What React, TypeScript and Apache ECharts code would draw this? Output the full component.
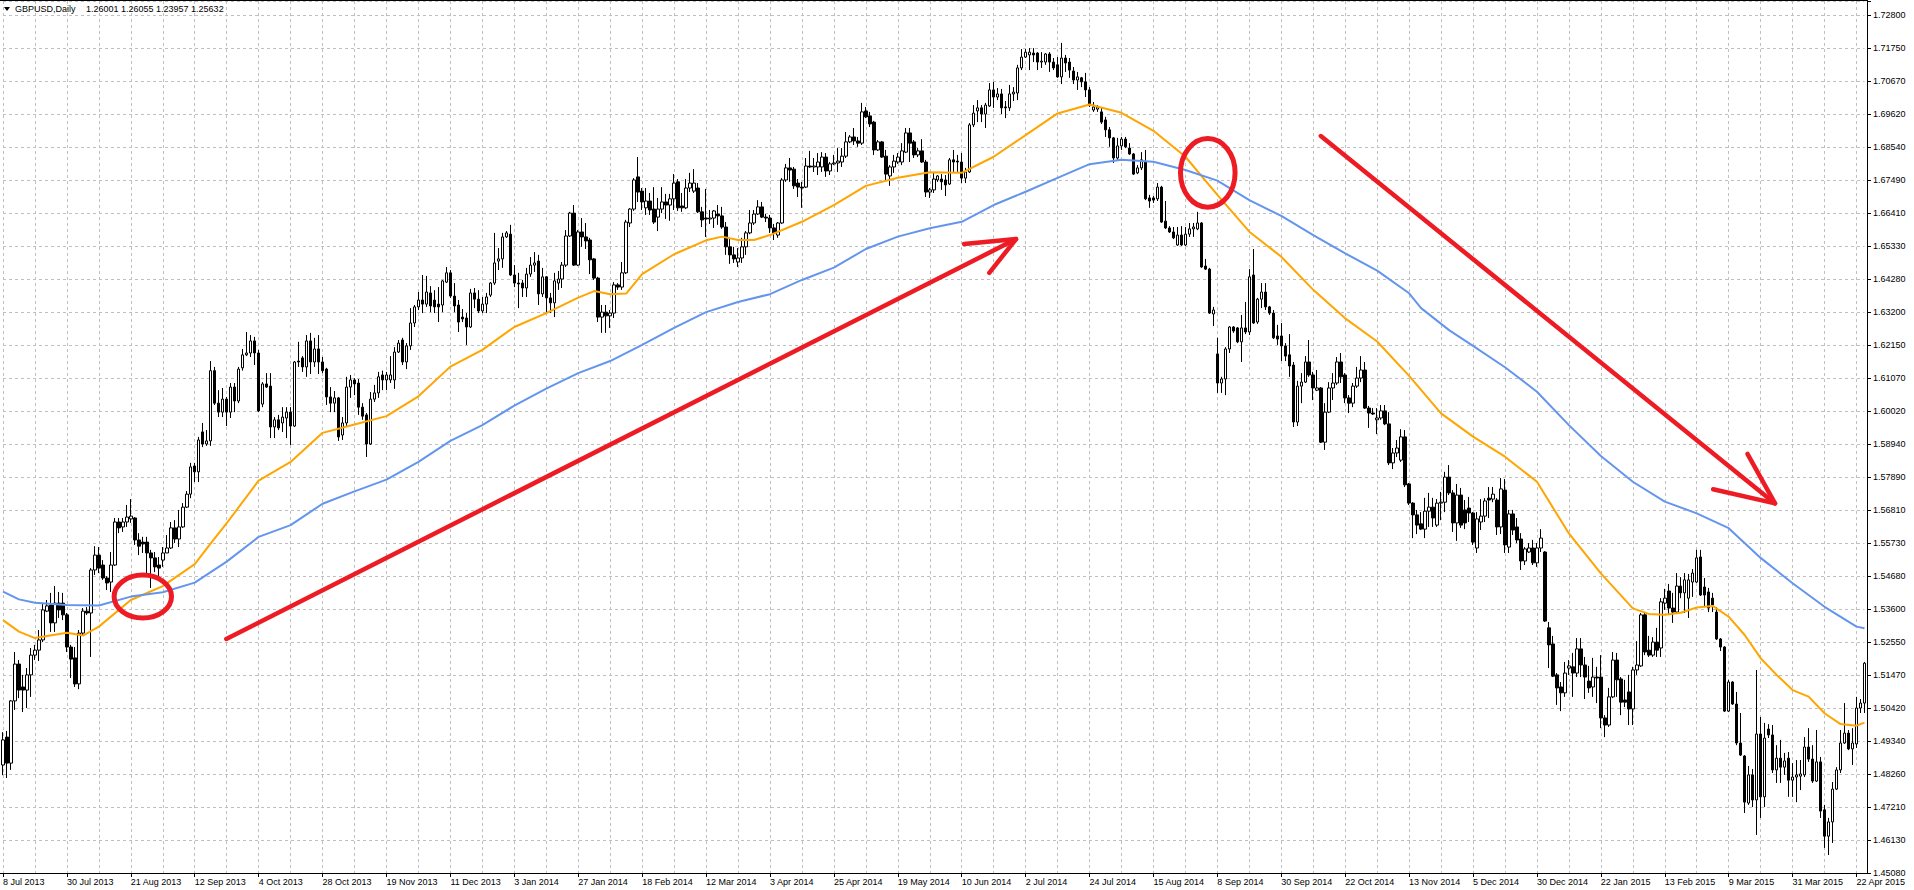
import React, { useEffect, useRef } from "react";
import * as echarts from "echarts";

// ---------- axis texts ----------
const X_TICKS = [
  "8 Jul 2013", "30 Jul 2013", "21 Aug 2013", "12 Sep 2013", "4 Oct 2013", "28 Oct 2013",
  "19 Nov 2013", "11 Dec 2013", "3 Jan 2014", "27 Jan 2014", "18 Feb 2014", "12 Mar 2014",
  "3 Apr 2014", "25 Apr 2014", "19 May 2014", "10 Jun 2014", "2 Jul 2014", "24 Jul 2014",
  "15 Aug 2014", "8 Sep 2014", "30 Sep 2014", "22 Oct 2014", "13 Nov 2014", "5 Dec 2014",
  "30 Dec 2014", "22 Jan 2015", "13 Feb 2015", "9 Mar 2015", "31 Mar 2015", "22 Apr 2015",
];
const X_TICK_EVERY = 16; // bars between date labels
const X_GRID_EVERY = 8; // bars between vertical grid lines

// bottom -> top
const Y_TICKS = [
  "1.45080", "1.46130", "1.47210", "1.48260", "1.49340", "1.50420", "1.51470", "1.52550",
  "1.53600", "1.54680", "1.55730", "1.56810", "1.57890", "1.58940", "1.60020", "1.61070",
  "1.62150", "1.63200", "1.64280", "1.65330", "1.66410", "1.67490", "1.68540", "1.69620",
  "1.70670", "1.71750", "1.72800",
];
const PRICE_MIN = 1.4508;
const PRICE_MAX = 1.732523;
const Y_STEP = (1.728 - 1.4508) / 26;

const HEADER_SYMBOL = "GBPUSD,Daily";
const HEADER_VALUES = "1.26001 1.26055 1.23957 1.25632";

// ---------- daily OHLC ----------
const OPEN = [
  1.4857,1.4947,1.4863,1.5064,1.5183,1.5109,1.5099,1.5148,1.5212,1.5228,
  1.5261,1.5354,1.5374,1.5316,1.5380,1.5380,1.5342,1.5238,1.5203,1.5119,
  1.5283,1.5354,1.5348,1.5487,1.5535,1.5503,1.5461,1.5448,1.5503,1.5642,
  1.5626,1.5642,1.5652,1.5655,1.5584,1.5577,1.5577,1.5542,1.5526,1.5503,
  1.5519,1.5542,1.5558,1.5623,1.5587,1.5626,1.5690,1.5732,1.5823,1.5804,
  1.5933,1.5894,1.5904,1.6131,1.6026,1.5997,1.6039,1.5997,1.6078,1.6033,
  1.6140,1.6182,1.6188,1.6227,1.6188,1.6023,1.6088,1.6081,1.5949,1.5972,
  1.5962,1.5978,1.5997,1.5952,1.6162,1.6172,1.6143,1.6227,1.6159,1.6201,
  1.6159,1.6136,1.6046,1.6026,1.6043,1.5923,1.5962,1.6078,1.6101,1.6091,
  1.6013,1.5988,1.5894,1.6039,1.6059,1.6117,1.6101,1.6101,1.6101,1.6191,
  1.6230,1.6159,1.6211,1.6285,1.6337,1.6359,1.6346,1.6382,1.6359,1.6346,
  1.6343,1.6417,1.6447,1.6372,1.6343,1.6304,1.6301,1.6272,1.6382,1.6362,
  1.6324,1.6346,1.6375,1.6414,1.6485,1.6492,1.6563,1.6572,1.6440,1.6414,
  1.6414,1.6398,1.6443,1.6472,1.6485,1.6379,1.6434,1.6366,1.6350,1.6414,
  1.6427,1.6472,1.6566,1.6640,1.6472,1.6579,1.6563,1.6553,1.6492,1.6430,
  1.6304,1.6320,1.6308,1.6317,1.6408,1.6401,1.6447,1.6608,1.6653,1.6757,
  1.6711,1.6657,1.6679,1.6653,1.6627,1.6653,1.6676,1.6666,1.6686,1.6741,
  1.6663,1.6657,1.6721,1.6711,1.6721,1.6644,1.6624,1.6621,1.6624,1.6637,
  1.6631,1.6595,1.6531,1.6505,1.6482,1.6495,1.6531,1.6576,1.6608,1.6637,
  1.6660,1.6627,1.6624,1.6592,1.6569,1.6608,1.6747,1.6786,1.6782,1.6737,
  1.6724,1.6724,1.6792,1.6789,1.6789,1.6789,1.6821,1.6776,1.6799,1.6802,
  1.6805,1.6824,1.6870,1.6886,1.6873,1.6866,1.6970,1.6954,1.6934,1.6844,
  1.6870,1.6824,1.6760,1.6789,1.6805,1.6805,1.6837,1.6899,1.6870,1.6828,
  1.6841,1.6805,1.6708,1.6715,1.6747,1.6750,1.6747,1.6734,1.6812,1.6808,
  1.6805,1.6753,1.6773,1.6925,1.6970,1.6980,1.6960,1.6986,1.7038,1.7015,
  1.7025,1.6983,1.6980,1.7025,1.7028,1.7109,1.7144,1.7151,1.7157,1.7157,
  1.7128,1.7128,1.7154,1.7128,1.7119,1.7080,1.7141,1.7128,1.7099,1.7070,
  1.7077,1.7064,1.7038,1.6973,1.6976,1.6967,1.6941,1.6909,1.6883,1.6818,
  1.6857,1.6879,1.6850,1.6831,1.6770,1.6786,1.6805,1.6689,1.6689,1.6686,
  1.6724,1.6614,1.6592,1.6579,1.6537,1.6569,1.6537,1.6572,1.6589,1.6589,
  1.6608,1.6469,1.6459,1.6314,1.6185,1.6091,1.6104,1.6201,1.6272,1.6269,
  1.6224,1.6269,1.6256,1.6440,1.6288,1.6362,1.6385,1.6337,1.6317,1.6243,
  1.6243,1.6211,1.6182,1.6149,1.5965,1.6081,1.6094,1.6159,1.6117,1.6068,
  1.6075,1.5900,1.5997,1.6075,1.6091,1.6159,1.6117,1.6043,1.6026,1.6081,
  1.6107,1.6133,1.6010,1.5994,1.5972,1.5978,1.6001,1.5959,1.5833,1.5865,
  1.5842,1.5917,1.5765,1.5703,1.5665,1.5636,1.5619,1.5677,1.5690,1.5632,
  1.5703,1.5706,1.5787,1.5736,1.5639,1.5729,1.5681,1.5687,1.5671,1.5558,
  1.5642,1.5661,1.5719,1.5716,1.5713,1.5626,1.5745,1.5561,1.5668,1.5626,
  1.5587,1.5516,1.5545,1.5558,1.5510,1.5558,1.5545,1.5300,1.5248,1.5148,
  1.5109,1.5090,1.5170,1.5174,1.5154,1.5232,1.5180,1.5128,1.5109,1.5141,
  1.5141,1.5009,1.4986,1.5077,1.5196,1.5135,1.5067,1.5093,1.5038,1.5164,
  1.5177,1.5342,1.5228,1.5212,1.5254,1.5235,1.5380,1.5419,1.5364,1.5351,
  1.5435,1.5413,1.5396,1.5448,1.5448,1.5529,1.5432,1.5416,1.5396,1.5351,
  1.5264,1.5238,1.5031,1.5125,1.5054,1.4928,1.4886,1.4734,1.4825,1.4744,
  1.4957,1.4754,1.4973,1.4954,1.4841,1.4879,1.4850,1.4879,1.4808,1.4818,
  1.4821,1.4825,1.4915,1.4876,1.4805,1.4867,1.4712,1.4627,1.4673,1.4779,
  1.4841,1.4928,1.4960,1.4909,1.4925,1.5041,1.5057,
];
const HIGH = [
  1.4963,1.4967,1.5067,1.5222,1.5196,1.5148,1.5170,1.5235,1.5245,1.5293,
  1.5380,1.5390,1.5413,1.5435,1.5416,1.5413,1.5348,1.5245,1.5238,1.5293,
  1.5364,1.5367,1.5493,1.5564,1.5561,1.5519,1.5467,1.5545,1.5655,1.5655,
  1.5655,1.5697,1.5716,1.5658,1.5606,1.5594,1.5594,1.5552,1.5545,1.5529,
  1.5561,1.5600,1.5642,1.5648,1.5681,1.5703,1.5742,1.5833,1.5833,1.5917,
  1.5962,1.5939,1.6162,1.6143,1.6068,1.6075,1.6046,1.6091,1.6091,1.6143,
  1.6201,1.6256,1.6246,1.6240,1.6198,1.6094,1.6123,1.6123,1.5981,1.5988,
  1.6013,1.6013,1.6013,1.6162,1.6224,1.6178,1.6246,1.6253,1.6237,1.6246,
  1.6175,1.6140,1.6078,1.6065,1.6046,1.5981,1.6111,1.6117,1.6107,1.6104,
  1.6026,1.5994,1.6062,1.6085,1.6127,1.6131,1.6127,1.6178,1.6207,1.6230,
  1.6237,1.6220,1.6333,1.6343,1.6385,1.6440,1.6437,1.6404,1.6391,1.6401,
  1.6424,1.6466,1.6456,1.6414,1.6359,1.6330,1.6317,1.6395,1.6398,1.6391,
  1.6369,1.6382,1.6417,1.6576,1.6527,1.6576,1.6582,1.6602,1.6472,1.6447,
  1.6424,1.6463,1.6498,1.6514,1.6505,1.6463,1.6437,1.6382,1.6447,1.6453,
  1.6482,1.6585,1.6644,1.6666,1.6585,1.6624,1.6608,1.6560,1.6495,1.6434,
  1.6343,1.6343,1.6327,1.6417,1.6414,1.6482,1.6618,1.6656,1.6753,1.6821,
  1.6721,1.6721,1.6705,1.6724,1.6689,1.6724,1.6702,1.6702,1.6766,1.6750,
  1.6705,1.6750,1.6770,1.6782,1.6737,1.6660,1.6718,1.6650,1.6650,1.6666,
  1.6660,1.6611,1.6560,1.6531,1.6527,1.6560,1.6582,1.6650,1.6650,1.6682,
  1.6676,1.6637,1.6634,1.6605,1.6611,1.6753,1.6799,1.6818,1.6789,1.6750,
  1.6741,1.6818,1.6841,1.6818,1.6834,1.6837,1.6834,1.6805,1.6828,1.6850,
  1.6850,1.6902,1.6892,1.6915,1.6886,1.6996,1.6983,1.6967,1.6938,1.6876,
  1.6873,1.6844,1.6795,1.6828,1.6834,1.6866,1.6915,1.6915,1.6876,1.6850,
  1.6879,1.6812,1.6721,1.6770,1.6763,1.6766,1.6763,1.6818,1.6844,1.6828,
  1.6834,1.6786,1.6931,1.6989,1.7005,1.6989,1.6996,1.7060,1.7064,1.7044,
  1.7041,1.7002,1.7054,1.7047,1.7119,1.7170,1.7170,1.7173,1.7173,1.7160,
  1.7160,1.7157,1.7160,1.7141,1.7144,1.7190,1.7151,1.7141,1.7112,1.7096,
  1.7080,1.7093,1.7047,1.6999,1.6989,1.6980,1.6951,1.6918,1.6886,1.6883,
  1.6886,1.6886,1.6866,1.6834,1.6795,1.6837,1.6844,1.6699,1.6695,1.6737,
  1.6728,1.6679,1.6598,1.6595,1.6595,1.6598,1.6595,1.6608,1.6608,1.6644,
  1.6611,1.6492,1.6463,1.6337,1.6237,1.6111,1.6207,1.6275,1.6275,1.6272,
  1.6311,1.6353,1.6459,1.6524,1.6366,1.6414,1.6414,1.6340,1.6327,1.6279,
  1.6285,1.6220,1.6249,1.6159,1.6098,1.6123,1.6178,1.6230,1.6127,1.6133,
  1.6078,1.6026,1.6094,1.6123,1.6175,1.6188,1.6123,1.6052,1.6091,1.6143,
  1.6178,1.6159,1.6017,1.6010,1.6010,1.6020,1.6020,1.5997,1.5881,1.5907,
  1.5942,1.5939,1.5768,1.5706,1.5681,1.5674,1.5720,1.5736,1.5720,1.5716,
  1.5739,1.5804,1.5826,1.5745,1.5765,1.5752,1.5713,1.5723,1.5674,1.5674,
  1.5716,1.5719,1.5755,1.5755,1.5719,1.5784,1.5781,1.5681,1.5681,1.5655,
  1.5606,1.5561,1.5574,1.5584,1.5574,1.5619,1.5548,1.5319,1.5274,1.5154,
  1.5125,1.5190,1.5196,1.5219,1.5267,1.5267,1.5206,1.5177,1.5203,1.5174,
  1.5212,1.5018,1.5106,1.5222,1.5219,1.5141,1.5132,1.5148,1.5174,1.5257,
  1.5348,1.5348,1.5274,1.5270,1.5300,1.5396,1.5426,1.5442,1.5413,1.5477,
  1.5464,1.5477,1.5474,1.5490,1.5552,1.5552,1.5461,1.5429,1.5413,1.5367,
  1.5267,1.5241,1.5132,1.5128,1.5093,1.5025,1.4889,1.4854,1.4844,1.5164,
  1.5012,1.4993,1.4989,1.4986,1.4921,1.4938,1.4896,1.4899,1.4863,1.4873,
  1.4873,1.4947,1.4976,1.4921,1.4970,1.4883,1.4728,1.4686,1.4802,1.4850,
  1.4970,1.5057,1.4970,1.4976,1.5077,1.5070,1.5190,
];
const LOW = [
  1.4824,1.4815,1.4841,1.5035,1.5073,1.5028,1.5041,1.5077,1.5196,1.5193,
  1.5254,1.5351,1.5287,1.5287,1.5332,1.5325,1.5222,1.5138,1.5109,1.5102,
  1.5274,1.5342,1.5206,1.5471,1.5477,1.5455,1.5422,1.5416,1.5500,1.5606,
  1.5610,1.5626,1.5639,1.5568,1.5535,1.5542,1.5477,1.5429,1.5480,1.5461,
  1.5497,1.5542,1.5555,1.5574,1.5561,1.5623,1.5687,1.5719,1.5771,1.5771,
  1.5884,1.5888,1.5888,1.6020,1.5981,1.5981,1.5952,1.5978,1.5997,1.6026,
  1.6131,1.6178,1.6175,1.6149,1.5997,1.6013,1.6075,1.5913,1.5913,1.5939,
  1.5933,1.5913,1.5891,1.5949,1.6143,1.6127,1.6111,1.6120,1.6143,1.6120,
  1.6123,1.6020,1.5997,1.5997,1.5904,1.5907,1.5949,1.6043,1.6052,1.5988,
  1.5972,1.5852,1.5891,1.6030,1.6043,1.6068,1.6068,1.6091,1.6072,1.6188,
  1.6149,1.6136,1.6198,1.6272,1.6327,1.6317,1.6337,1.6320,1.6317,1.6288,
  1.6320,1.6414,1.6366,1.6320,1.6256,1.6288,1.6214,1.6269,1.6333,1.6317,
  1.6317,1.6317,1.6369,1.6408,1.6456,1.6463,1.6560,1.6437,1.6401,1.6333,
  1.6369,1.6369,1.6434,1.6450,1.6343,1.6369,1.6317,1.6317,1.6304,1.6392,
  1.6398,1.6466,1.6563,1.6469,1.6469,1.6531,1.6524,1.6443,1.6424,1.6288,
  1.6253,1.6253,1.6269,1.6301,1.6392,1.6392,1.6443,1.6595,1.6647,1.6676,
  1.6650,1.6634,1.6634,1.6605,1.6582,1.6640,1.6621,1.6615,1.6650,1.6647,
  1.6644,1.6653,1.6708,1.6705,1.6640,1.6595,1.6563,1.6605,1.6592,1.6602,
  1.6589,1.6505,1.6476,1.6479,1.6466,1.6479,1.6505,1.6572,1.6602,1.6634,
  1.6624,1.6611,1.6576,1.6553,1.6560,1.6605,1.6741,1.6741,1.6718,1.6692,
  1.6657,1.6721,1.6786,1.6773,1.6763,1.6773,1.6757,1.6763,1.6795,1.6773,
  1.6789,1.6818,1.6866,1.6860,1.6854,1.6860,1.6947,1.6918,1.6828,1.6841,
  1.6818,1.6747,1.6728,1.6770,1.6799,1.6795,1.6834,1.6805,1.6818,1.6821,
  1.6802,1.6692,1.6689,1.6705,1.6741,1.6715,1.6695,1.6731,1.6773,1.6770,
  1.6737,1.6737,1.6770,1.6918,1.6934,1.6934,1.6915,1.6983,1.6980,1.7005,
  1.6960,1.6947,1.6970,1.7002,1.7005,1.7102,1.7141,1.7102,1.7128,1.7102,
  1.7109,1.7119,1.7096,1.7102,1.7077,1.7057,1.7096,1.7077,1.7057,1.7038,
  1.7047,1.7015,1.6983,1.6967,1.6967,1.6928,1.6886,1.6854,1.6802,1.6812,
  1.6844,1.6850,1.6828,1.6763,1.6766,1.6779,1.6682,1.6657,1.6673,1.6679,
  1.6608,1.6589,1.6576,1.6556,1.6534,1.6534,1.6534,1.6563,1.6563,1.6585,
  1.6463,1.6456,1.6314,1.6275,1.6059,1.6059,1.6052,1.6188,1.6253,1.6220,
  1.6159,1.6249,1.6246,1.6282,1.6282,1.6333,1.6327,1.6311,1.6233,1.6214,
  1.6162,1.6162,1.6111,1.5949,1.5952,1.6026,1.6091,1.6111,1.6036,1.6065,
  1.5897,1.5875,1.5994,1.6036,1.6085,1.6091,1.6026,1.5994,1.6013,1.6075,
  1.6094,1.6007,1.5946,1.5988,1.5926,1.5972,1.5955,1.5826,1.5813,1.5852,
  1.5836,1.5755,1.5697,1.5590,1.5603,1.5616,1.5590,1.5626,1.5626,1.5626,
  1.5648,1.5674,1.5729,1.5610,1.5581,1.5623,1.5619,1.5642,1.5568,1.5542,
  1.5616,1.5642,1.5655,1.5706,1.5600,1.5603,1.5542,1.5542,1.5600,1.5574,
  1.5487,1.5503,1.5542,1.5503,1.5497,1.5545,1.5319,1.5170,1.5141,1.5051,
  1.5031,1.5077,1.5148,1.5077,1.5141,1.5141,1.5070,1.5090,1.5077,1.5057,
  1.4976,1.4947,1.4980,1.5073,1.5077,1.5018,1.5044,1.4986,1.4986,1.5148,
  1.5174,1.5212,1.5206,1.5206,1.5206,1.5206,1.5358,1.5342,1.5316,1.5348,
  1.5396,1.5348,1.5332,1.5400,1.5445,1.5403,1.5367,1.5351,1.5351,1.5261,
  1.5225,1.5028,1.5028,1.5051,1.4921,1.4886,1.4702,1.4728,1.4721,1.4631,
  1.4686,1.4721,1.4944,1.4831,1.4799,1.4799,1.4825,1.4754,1.4754,1.4737,
  1.4776,1.4818,1.4867,1.4799,1.4802,1.4686,1.4589,1.4566,1.4605,1.4776,
  1.4831,1.4925,1.4905,1.4857,1.4912,1.5025,1.5025,
];
const CLOSE = [
  1.4938,1.4863,1.5064,1.5183,1.5099,1.5099,1.5148,1.5212,1.5228,1.5261,
  1.5358,1.5371,1.5316,1.5380,1.5358,1.5342,1.5238,1.5199,1.5119,1.5283,
  1.5354,1.5348,1.5487,1.5535,1.5493,1.5461,1.5445,1.5503,1.5642,1.5623,
  1.5642,1.5658,1.5661,1.5584,1.5564,1.5571,1.5542,1.5526,1.5497,1.5493,
  1.5542,1.5558,1.5623,1.5587,1.5626,1.5690,1.5732,1.5820,1.5804,1.5907,
  1.5894,1.5904,1.6131,1.6026,1.5997,1.6039,1.5997,1.6078,1.6033,1.6136,
  1.6182,1.6188,1.6227,1.6188,1.6001,1.6088,1.6078,1.5949,1.5972,1.5946,
  1.5981,1.5997,1.5952,1.6159,1.6159,1.6143,1.6227,1.6159,1.6201,1.6159,
  1.6131,1.6046,1.6026,1.6043,1.5917,1.5962,1.6078,1.6101,1.6088,1.6013,
  1.5984,1.5894,1.6039,1.6059,1.6111,1.6101,1.6117,1.6117,1.6191,1.6220,
  1.6159,1.6211,1.6285,1.6337,1.6359,1.6346,1.6385,1.6340,1.6337,1.6337,
  1.6421,1.6447,1.6372,1.6340,1.6288,1.6298,1.6272,1.6382,1.6362,1.6324,
  1.6346,1.6369,1.6414,1.6479,1.6492,1.6563,1.6576,1.6440,1.6414,1.6411,
  1.6398,1.6443,1.6472,1.6479,1.6379,1.6434,1.6366,1.6350,1.6421,1.6427,
  1.6472,1.6566,1.6640,1.6472,1.6579,1.6563,1.6550,1.6489,1.6430,1.6304,
  1.6320,1.6308,1.6317,1.6408,1.6401,1.6447,1.6611,1.6653,1.6747,1.6708,
  1.6676,1.6679,1.6650,1.6611,1.6653,1.6676,1.6666,1.6686,1.6737,1.6657,
  1.6657,1.6721,1.6737,1.6737,1.6644,1.6618,1.6621,1.6624,1.6647,1.6631,
  1.6595,1.6531,1.6505,1.6492,1.6495,1.6531,1.6576,1.6608,1.6637,1.6660,
  1.6627,1.6624,1.6592,1.6576,1.6608,1.6747,1.6786,1.6779,1.6728,1.6724,
  1.6721,1.6792,1.6789,1.6792,1.6805,1.6821,1.6776,1.6799,1.6802,1.6808,
  1.6824,1.6870,1.6886,1.6873,1.6866,1.6967,1.6951,1.6928,1.6844,1.6870,
  1.6821,1.6766,1.6789,1.6808,1.6821,1.6841,1.6899,1.6866,1.6828,1.6841,
  1.6805,1.6708,1.6715,1.6750,1.6760,1.6741,1.6731,1.6812,1.6805,1.6805,
  1.6753,1.6773,1.6925,1.6963,1.6980,1.6960,1.6989,1.7038,1.7015,1.7025,
  1.6980,1.6980,1.7025,1.7031,1.7109,1.7144,1.7160,1.7160,1.7151,1.7128,
  1.7131,1.7154,1.7128,1.7109,1.7080,1.7141,1.7125,1.7102,1.7070,1.7080,
  1.7064,1.7038,1.6989,1.6983,1.6983,1.6934,1.6909,1.6883,1.6818,1.6857,
  1.6879,1.6854,1.6831,1.6766,1.6786,1.6812,1.6686,1.6679,1.6682,1.6724,
  1.6611,1.6592,1.6579,1.6560,1.6569,1.6537,1.6572,1.6589,1.6595,1.6608,
  1.6466,1.6459,1.6317,1.6327,1.6091,1.6104,1.6201,1.6272,1.6259,1.6224,
  1.6269,1.6256,1.6434,1.6285,1.6362,1.6385,1.6337,1.6317,1.6237,1.6233,
  1.6211,1.6178,1.6146,1.5965,1.6081,1.6094,1.6159,1.6117,1.6075,1.6075,
  1.5900,1.5997,1.6075,1.6091,1.6159,1.6111,1.6043,1.6026,1.6081,1.6107,
  1.6133,1.6010,1.5994,1.5991,1.5978,1.6001,1.5959,1.5833,1.5865,1.5881,
  1.5917,1.5762,1.5703,1.5665,1.5632,1.5619,1.5677,1.5690,1.5655,1.5703,
  1.5706,1.5787,1.5736,1.5639,1.5729,1.5632,1.5639,1.5671,1.5577,1.5652,
  1.5661,1.5710,1.5713,1.5732,1.5626,1.5749,1.5568,1.5668,1.5616,1.5584,
  1.5516,1.5555,1.5558,1.5510,1.5558,1.5590,1.5322,1.5245,1.5144,1.5106,
  1.5090,1.5154,1.5177,1.5154,1.5232,1.5180,1.5141,1.5106,1.5141,1.5138,
  1.5009,1.4986,1.5077,1.5196,1.5132,1.5060,1.5060,1.5038,1.5164,1.5180,
  1.5342,1.5222,1.5212,1.5254,1.5228,1.5384,1.5396,1.5364,1.5351,1.5435,
  1.5413,1.5455,1.5455,1.5477,1.5526,1.5406,1.5406,1.5364,1.5374,1.5264,
  1.5238,1.5031,1.5125,1.5054,1.4928,1.4889,1.4737,1.4825,1.4744,1.4957,
  1.4754,1.4944,1.4954,1.4841,1.4879,1.4850,1.4870,1.4808,1.4818,1.4825,
  1.4828,1.4915,1.4876,1.4805,1.4867,1.4708,1.4627,1.4673,1.4779,1.4841,
  1.4928,1.4960,1.4909,1.4928,1.5041,1.5057,1.5186,
];

// ---------- moving averages (read at bar indices) ----------
const ORANGE_IDX = [
  0, 4, 8, 16, 20, 24, 32, 40, 48, 52, 56, 64, 72, 80, 88, 96, 104, 112, 120, 128, 136, 144, 148,
  152, 156, 160, 168, 176, 180, 184, 188, 192, 200, 208, 216, 224, 232, 240, 248, 256, 264, 272,
  280, 288, 296, 304, 312, 320, 328, 336, 344, 352, 360, 368, 376, 384, 392, 400, 408, 412, 416,
  420, 424, 428, 432, 436, 440, 444, 448, 452, 456, 460, 464, 466,
];
const ORANGE_MA = [
  1.5325, 1.5288, 1.5267, 1.5284, 1.5275, 1.5304, 1.5390, 1.5435, 1.5506, 1.5573, 1.5638, 1.5776,
  1.5836, 1.5930, 1.5957, 1.5984, 1.6048, 1.6144, 1.6198, 1.6272, 1.6317, 1.6367, 1.6388, 1.6378,
  1.6380, 1.6443, 1.6507, 1.6552, 1.6564, 1.6553, 1.6553, 1.6569, 1.6612, 1.6666, 1.6728, 1.6754,
  1.6772, 1.6770, 1.6822, 1.6892, 1.6962, 1.6991, 1.6964, 1.6906, 1.6822, 1.6699, 1.6580, 1.6499,
  1.6392, 1.6300, 1.6225, 1.6114, 1.5993, 1.5918, 1.5853, 1.5772, 1.5605, 1.5476, 1.5363, 1.5345,
  1.5342, 1.5349, 1.5366, 1.5371, 1.5336, 1.5277, 1.5202, 1.5148, 1.5099, 1.5078, 1.5024, 1.4989,
  1.4984, 1.4994,
];
const BLUE_IDX = [
  0, 4, 8, 16, 24, 32, 40, 48, 56, 64, 72, 80, 88, 96, 104, 112, 120, 128, 136, 144, 152, 160,
  168, 176, 184, 192, 200, 208, 216, 224, 232, 240, 248, 256, 264, 272, 280, 288, 296, 304, 312,
  320, 328, 336, 344, 352, 355, 362, 368, 376, 384, 392, 400, 408, 416, 424, 432, 440, 448, 456,
  464, 466,
];
const BLUE_MA = [
  1.5417, 1.5392, 1.5381, 1.5374, 1.5372, 1.5401, 1.5415, 1.5446, 1.5514, 1.5594, 1.5632, 1.5701,
  1.5741, 1.5779, 1.5836, 1.5904, 1.5955, 1.6018, 1.6073, 1.6123, 1.6162, 1.6214, 1.6269, 1.6320,
  1.6353, 1.6378, 1.6424, 1.6464, 1.6524, 1.6564, 1.6591, 1.6612, 1.6666, 1.6709, 1.6754, 1.6798,
  1.6812, 1.6806, 1.6779, 1.6745, 1.6682, 1.6631, 1.6569, 1.6510, 1.6454, 1.6381, 1.6333, 1.6262,
  1.6211, 1.6142, 1.6063, 1.5955, 1.5855, 1.5772, 1.5708, 1.5670, 1.5622, 1.5526, 1.5444, 1.5368,
  1.5304, 1.5299,
];

// ---------- hand-drawn annotations, anchored at [bar index, price] ----------
const ARROW_UP = [[55.9, 1.5264], [253.6, 1.6556]];
const ARROW_UP_HEAD = [[240.6, 1.654], [253.6, 1.6556], [246.9, 1.6447]];
const ARROW_DOWN = [[329.9, 1.6889], [443.6, 1.5702]];
const ARROW_DOWN_HEAD = [[436.7, 1.5862], [443.6, 1.5702], [428.1, 1.5748]];
const CROSS_MARKS = [
  { at: [35, 1.5401], rx: 28.7, ry: 21.5 },
  { at: [301.6, 1.677], rx: 27.3, ry: 34.3 },
];

const FONT = "'Liberation Sans', Arial, Helvetica, sans-serif";
const RED = "#ed1c24";

export default function App() {
  const ref = useRef<HTMLDivElement>(null);

  useEffect(() => {
    const el = ref.current;
    if (!el) return;
    const chart = echarts.init(el, null, { renderer: "svg", width: 1914, height: 890 });

    const categories = OPEN.map((_, i) => String(i));
    const candles = OPEN.map((o, i) => {
      const c = CLOSE[i];
      return [o, c, Math.min(LOW[i], o, c), Math.max(HIGH[i], o, c)];
    });
    const gridSteps = (PRICE_MAX - PRICE_MIN) / Y_STEP;
    const dashed = { color: "#c0c0c0", width: 1, type: [3, 3] as any };

    chart.setOption({
      animation: false,
      backgroundColor: "#ffffff",
      grid: { left: 0.5, right: 49.5, top: 1, bottom: 17, containLabel: false },
      xAxis: [
        {
          type: "category",
          data: categories,
          boundaryGap: false,
          axisLine: { show: false },
          axisTick: {
            show: true,
            interval: X_TICK_EVERY - 1,
            length: 4,
            lineStyle: { color: "#000000", width: 1 },
          },
          axisLabel: {
            interval: X_TICK_EVERY - 1,
            formatter: (_v: string, idx: number) =>
              idx % X_TICK_EVERY === 0 ? X_TICKS[idx / X_TICK_EVERY] ?? "" : "",
            align: "left",
            margin: 4,
            color: "#000000",
            fontSize: 9,
            fontFamily: FONT,
          },
          splitLine: { show: true, interval: X_GRID_EVERY - 1, lineStyle: dashed },
        },
      ],
      yAxis: [
        { type: "value", min: PRICE_MIN, max: PRICE_MAX, show: false },
        {
          type: "value",
          position: "right",
          offset: 3.5,
          min: 0,
          max: gridSteps,
          interval: 1,
          axisLine: { show: false },
          axisTick: { show: true, length: 3, lineStyle: { color: "#000000", width: 1 } },
          axisLabel: {
            margin: 5,
            color: "#000000",
            fontSize: 9,
            fontFamily: FONT,
            formatter: (v: number) => {
              const k = Math.round(v);
              return Math.abs(v - k) < 1e-6 && Y_TICKS[k] ? Y_TICKS[k] : "";
            },
          },
          splitLine: { show: true, lineStyle: dashed },
        },
      ],
      series: [
        {
          type: "candlestick",
          xAxisIndex: 0,
          yAxisIndex: 0,
          data: candles,
          barWidth: 3,
          z: 2,
          itemStyle: {
            color: "#ffffff",
            color0: "#000000",
            borderColor: "#000000",
            borderColor0: "#000000",
            borderColorDoji: "#000000",
            borderWidth: 1,
          },
        },
        {
          type: "line",
          xAxisIndex: 0,
          yAxisIndex: 0,
          data: ORANGE_IDX.map((i, k) => [i, ORANGE_MA[k]]),
          showSymbol: false,
          symbol: "none",
          z: 3,
          lineStyle: { color: "#ffa500", width: 2 },
        },
        {
          type: "line",
          xAxisIndex: 0,
          yAxisIndex: 0,
          data: BLUE_IDX.map((i, k) => [i, BLUE_MA[k]]),
          showSymbol: false,
          symbol: "none",
          z: 3,
          lineStyle: { color: "#6495ed", width: 2 },
        },
      ],
    });

    const finder = { xAxisIndex: 0, yAxisIndex: 0 };
    const toPx = (pt: number[]) => {
      const i0 = Math.floor(pt[0]);
      const f = pt[0] - i0;
      const a = chart.convertToPixel(finder as any, [i0, pt[1]]) as number[];
      const b = chart.convertToPixel(finder as any, [i0 + 1, pt[1]]) as number[];
      return [a[0] + (b[0] - a[0]) * f, a[1]];
    };
    const redLine = { stroke: RED, lineWidth: 4.5, lineCap: "round", fill: "none", lineJoin: "round" };
    const shaft = (pts: number[][]) => {
      const p = toPx(pts[0]);
      const q = toPx(pts[1]);
      return { type: "line", z: 100, silent: true, shape: { x1: p[0], y1: p[1], x2: q[0], y2: q[1] }, style: redLine };
    };
    const head = (pts: number[][]) => ({
      type: "polyline",
      z: 100,
      silent: true,
      shape: { points: pts.map(toPx) },
      style: redLine,
    });
    const ring = (m: { at: number[]; rx: number; ry: number }) => {
      const c = toPx(m.at);
      return {
        type: "ellipse",
        z: 100,
        silent: true,
        shape: { cx: c[0], cy: c[1], rx: m.rx, ry: m.ry },
        style: { fill: "none", stroke: RED, lineWidth: 5 },
      };
    };
    const frame = (x1: number, y1: number, x2: number, y2: number) => ({
      type: "line",
      z: 50,
      silent: true,
      shape: { x1, y1, x2, y2 },
      style: { stroke: "#000000", lineWidth: 1 },
    });

    chart.setOption({
      graphic: {
        elements: [
          frame(0, 0.5, 1868, 0.5),
          frame(1867.5, 0, 1867.5, 873.5),
          frame(0, 873.5, 1868, 873.5),
          {
            type: "polygon",
            z: 60,
            silent: true,
            shape: { points: [[4, 7], [10, 7], [7, 11]] },
            style: { fill: "#000000" },
          },
          {
            type: "text",
            z: 60,
            silent: true,
            x: 15,
            y: 9,
            style: { text: HEADER_SYMBOL, fill: "#000000", fontSize: 9, fontFamily: FONT, verticalAlign: "middle" },
          },
          {
            type: "text",
            z: 60,
            silent: true,
            x: 86,
            y: 9,
            style: { text: HEADER_VALUES, fill: "#000000", fontSize: 9, fontFamily: FONT, verticalAlign: "middle" },
          },
          shaft(ARROW_UP),
          head(ARROW_UP_HEAD),
          shaft(ARROW_DOWN),
          head(ARROW_DOWN_HEAD),
          ...CROSS_MARKS.map(ring),
        ],
      },
    });

    return () => {
      chart.dispose();
    };
  }, []);

  return (
    <div
      ref={ref}
      style={{ position: "absolute", left: 0, top: 0, width: 1914, height: 890, background: "#ffffff" }}
    />
  );
}
